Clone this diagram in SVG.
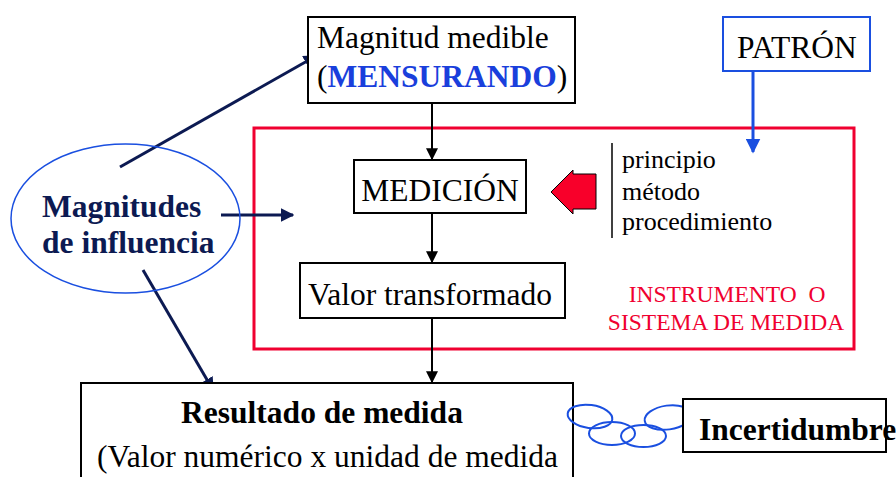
<svg xmlns="http://www.w3.org/2000/svg" width="896" height="477" viewBox="0 0 896 477">
<defs>
<style>
.t{font-family:"Liberation Serif","Times New Roman",serif;font-size:31.5px;fill:#000}
.b{font-weight:bold}
.s{font-size:26px}
.box{fill:#fff;stroke:#000;stroke-width:2}
.blk{stroke:#000;stroke-width:2;fill:none}
.nav{stroke:#0c1a52;stroke-width:3;fill:none}
.blu{stroke:#1a4fe0;fill:none}
</style>
<marker id="ak" viewBox="0 0 10 10" refX="9" refY="5" markerWidth="6" markerHeight="6" orient="auto" markerUnits="strokeWidth"><path d="M0,0 L10,5 L0,10 z" fill="#000"/></marker>
<marker id="an" viewBox="0 0 10 10" refX="9" refY="5" markerWidth="4.5" markerHeight="4.5" orient="auto" markerUnits="strokeWidth"><path d="M0,0 L10,5 L0,10 z" fill="#0c1a52"/></marker>
<marker id="ab" viewBox="0 0 10 10" refX="9" refY="5" markerWidth="5" markerHeight="5" orient="auto" markerUnits="strokeWidth"><path d="M0,0 L10,5 L0,10 z" fill="#1a4fe0"/></marker>
</defs>
<rect width="896" height="477" fill="#fff"/>

<g id="instrumento">
<rect x="254" y="128" width="600" height="221" fill="none" stroke="#f00030" stroke-width="3"/>
<text class="t" x="727" y="302" text-anchor="middle" style="font-size:23.5px;fill:#f00030" xml:space="preserve">INSTRUMENTO  O</text>
<text class="t" x="726" y="330" text-anchor="middle" style="font-size:23.5px;fill:#f00030">SISTEMA DE MEDIDA</text>
</g>

<g id="connectors">
<line class="blk" x1="432" y1="103" x2="432" y2="159" marker-end="url(#ak)"/>
<line class="blk" x1="432" y1="213" x2="432" y2="262" marker-end="url(#ak)"/>
<line class="blk" x1="432" y1="318" x2="432" y2="382" marker-end="url(#ak)"/>
<line class="blu" stroke-width="3" x1="753" y1="64" x2="753" y2="152" marker-end="url(#ab)"/>
<line class="nav" x1="120" y1="167" x2="316" y2="56" marker-end="url(#an)"/>
<line class="nav" x1="221" y1="215" x2="293" y2="215" marker-end="url(#an)"/>
<line class="nav" x1="143" y1="270" x2="213" y2="390" marker-end="url(#an)"/>
</g>

<g id="mensurando">
<rect class="box" x="308" y="17" width="267" height="86"/>
<text class="t" x="317" y="48">Magnitud medible</text>
<text class="t" x="317" y="87">(<tspan class="b" fill="#1a3fdc">MENSURANDO</tspan>)</text>
</g>

<g id="medicion">
<rect class="box" x="354" y="160" width="172" height="53"/>
<text class="t" x="440" y="201" text-anchor="middle">MEDICIÓN</text>
</g>

<g id="flecha-roja">
<polygon points="551,192 573,170 573,174 596,174 596,209 573,209 573,214" fill="#f8002a" stroke="#000" stroke-width="1"/>
</g>

<g id="metodo">
<line x1="612" y1="143" x2="612" y2="238" stroke="#000" stroke-width="1.5"/>
<text class="t s" x="622" y="168">principio</text>
<text class="t s" x="622" y="200">método</text>
<text class="t s" x="622" y="230">procedimiento</text>
</g>

<g id="patron">
<rect x="723" y="17" width="147" height="54" fill="#fff" stroke="#1a4fe0" stroke-width="2"/>
<text class="t" x="737" y="58">PATRÓN</text>
</g>

<g id="valor">
<rect class="box" x="300" y="263" width="265" height="55"/>
<text class="t" x="308" y="305">Valor transformado</text>
</g>

<g id="influencia">
<ellipse cx="125.5" cy="218.5" rx="114.5" ry="74.5" fill="none" stroke="#1a4fe0" stroke-width="1.5"/>
<text class="t b" x="42" y="217" style="fill:#0c1a52">Magnitudes</text>
<text class="t b" x="42" y="253" style="fill:#0c1a52">de influencia</text>
</g>

<g id="resultado">
<rect class="box" x="81" y="383" width="492" height="100"/>
<text class="t b" x="322" y="423" text-anchor="middle">Resultado de medida</text>
<text class="t" x="97" y="467">(Valor numérico x unidad de medida</text>
</g>

<g id="cadena" class="blu" stroke-width="2">
<ellipse cx="590" cy="416.5" rx="22.5" ry="11.5" transform="rotate(8 590 416.5)"/>
<ellipse cx="612" cy="433.5" rx="23" ry="11.5"/>
<ellipse cx="643.5" cy="436" rx="22.5" ry="11"/>
<ellipse cx="668" cy="417.5" rx="23.5" ry="12" transform="rotate(-8 668 417.5)"/>
</g>

<g id="incertidumbre">
<rect class="box" x="683" y="399" width="203" height="53"/>
<text class="t b" x="699" y="440">Incertidumbre</text>
</g>
</svg>
